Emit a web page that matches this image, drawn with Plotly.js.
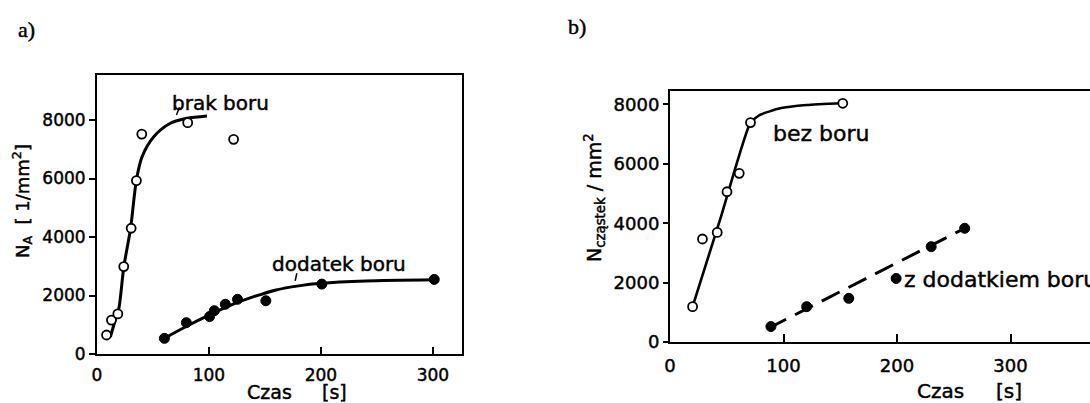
<!DOCTYPE html>
<html><head><meta charset="utf-8">
<script src="https://cdn.plot.ly/plotly-3.0.1.min.js"></script>
<style>
html,body{margin:0;padding:0;background:#fff;}
#chart{width:1090px;height:403px;}
#chart .annotation-text, #chart .xtick text, #chart .ytick text, #chart .x2tick text, #chart .y2tick text{
  stroke:#000; stroke-width:0.45px; paint-order:stroke;}
</style>
</head><body><div id="chart"></div>
<script>
// ---------- Panel a) ----------
const aXTicks = [0, 100, 200, 300];
const aYTicks = [0, 2000, 4000, 6000, 8000];
// brak boru (open circles)
const aBrakX = [8.5, 12.9, 18.6, 23.9, 30.5, 35.2, 40, 81, 122];
const aBrakY = [650, 1160, 1370, 2990, 4300, 5930, 7520, 7910, 7340];
// fitted curve brak boru
const aBrakCurveX = [12, 16.5, 19.5, 24, 30, 35.2, 40.3, 50.7, 65.5, 80.4, 98.2];
const aBrakCurveY = [590, 1190, 1550, 2990, 4300, 5950, 6750, 7430, 7890, 8060, 8140];
// dodatek boru (filled circles)
const aDodX = [60.2, 79.8, 100.6, 104.8, 114.6, 125.5, 150.8, 200.8, 301.2];
const aDodY = [535, 1070, 1280, 1480, 1700, 1870, 1820, 2390, 2550];
const aDodCurveX = [60, 80, 100, 120, 140, 160, 180, 200, 240, 301];
const aDodCurveY = [535, 950, 1330, 1680, 1960, 2190, 2330, 2420, 2500, 2540];
// label leader strokes
const aBrakLeadX = [71, 73.6];
const aBrakLeadY = [8170, 8440];
const aDodLeadX = [177, 178.5];
const aDodLeadY = [2500, 2760];

// ---------- Panel b) ----------
const bXTicks = [0, 100, 200, 300];
const bYTicks = [0, 2000, 4000, 6000, 8000];
const bBezX = [19.9, 28.6, 41.6, 50.2, 61, 70.9, 152.2];
const bBezY = [1190, 3470, 3690, 5060, 5680, 7390, 8040];
const bBezCurveX = [19.9, 45, 70.9, 79.3, 96.9, 120.4, 152.2];
const bBezCurveY = [1190, 4230, 7390, 7650, 7870, 7980, 8040];
const bZX = [88.9, 120.4, 157.5, 199.2, 230.1, 259.6];
const bZY = [520, 1190, 1470, 2140, 3210, 3830];
const bZLineX = [86.6, 259.6];
const bZLineY = [460, 3830];

const W = 1090, H = 403;
const px = x => x / W;
const py = y => 1 - y / H;
const INK = '#000';
const FONT = 'DejaVu Sans';

const curveA = {width: 3, color: INK, shape: 'spline', smoothing: 0.8};
const openM = {symbol: 'circle', size: 9, color: '#fff', line: {color: INK, width: 1.8}};
const fillM = {symbol: 'circle', size: 10, color: INK, line: {color: INK, width: 1}};

const traces = [
  {x: aBrakCurveX, y: aBrakCurveY, mode: 'lines', line: curveA, xaxis: 'x', yaxis: 'y', hoverinfo: 'skip'},
  {x: aDodCurveX, y: aDodCurveY, mode: 'lines', line: curveA, xaxis: 'x', yaxis: 'y', hoverinfo: 'skip'},
  {x: aBrakLeadX, y: aBrakLeadY, mode: 'lines', line: {width: 1.5, color: INK}, xaxis: 'x', yaxis: 'y'},
  {x: aDodLeadX, y: aDodLeadY, mode: 'lines', line: {width: 1.5, color: INK}, xaxis: 'x', yaxis: 'y'},
  {x: aBrakX, y: aBrakY, mode: 'markers', marker: openM, xaxis: 'x', yaxis: 'y'},
  {x: aDodX, y: aDodY, mode: 'markers', marker: fillM, xaxis: 'x', yaxis: 'y'},
  {x: bBezCurveX, y: bBezCurveY, mode: 'lines', line: {width: 2.6, color: INK, shape: 'spline', smoothing: 0.5}, xaxis: 'x2', yaxis: 'y2'},
  {x: bZLineX, y: bZLineY, mode: 'lines', line: {width: 3, color: INK, dash: '20px,10px'}, xaxis: 'x2', yaxis: 'y2'},
  {x: bBezX, y: bBezY, mode: 'markers', marker: openM, xaxis: 'x2', yaxis: 'y2'},
  {x: bZX, y: bZY, mode: 'markers', marker: fillM, xaxis: 'x2', yaxis: 'y2'}
];

const axBase = {showgrid: false, zeroline: false, showline: true, linecolor: INK, linewidth: 2,
  tickcolor: INK, tickwidth: 2, tickmode: 'array', fixedrange: true};

const ann = (o) => Object.assign({showarrow: false, xanchor: 'center', yanchor: 'middle'}, o);
const SP = '&nbsp;&nbsp;&nbsp;&nbsp;&nbsp;';

const layout = {
  width: W, height: H, margin: {l: 0, r: 0, t: 0, b: 0},
  paper_bgcolor: '#fff', plot_bgcolor: '#fff', showlegend: false,
  font: {family: FONT, color: INK, size: 17},
  xaxis: Object.assign({}, axBase, {domain: [px(97), px(462)], range: [0, 326], anchor: 'y',
    mirror: true, ticks: 'inside', ticklen: 7, tickvals: aXTicks, ticktext: aXTicks.map(String),
    tickfont: {size: 17}, ticklabelstandoff: 5}),
  yaxis: Object.assign({}, axBase, {domain: [py(354), py(75)], range: [0, 9540], anchor: 'x',
    mirror: true, ticks: 'outside', ticklen: 6, tickvals: aYTicks, ticktext: aYTicks.map(String),
    tickfont: {size: 17}}),
  xaxis2: Object.assign({}, axBase, {domain: [px(670), 1], range: [0, 370], anchor: 'y2',
    mirror: true, ticks: 'inside', ticklen: 8, tickvals: bXTicks, ticktext: bXTicks.map(String),
    tickfont: {size: 18}, ticklabelstandoff: 6}),
  yaxis2: Object.assign({}, axBase, {domain: [py(342), py(91)], range: [0, 8454], anchor: 'x2',
    mirror: false, ticks: 'outside', ticklen: 5, tickvals: bYTicks, ticktext: bYTicks.map(String),
    tickfont: {size: 18}}),
  annotations: [
    ann({text: 'a)', xref: 'paper', yref: 'paper', x: px(26), y: py(29),
      font: {family: 'Liberation Serif', size: 22, color: '#000'}}),
    ann({text: 'b)', xref: 'paper', yref: 'paper', x: px(577), y: py(27),
      font: {family: 'Liberation Serif', size: 22, color: '#000'}}),
    ann({text: 'brak boru', xref: 'x', yref: 'y', x: 110.7, y: 8590, font: {size: 20}}),
    ann({text: 'dodatek boru', xref: 'x', yref: 'y', x: 216, y: 3080, font: {size: 20}}),
    ann({text: 'Czas' + SP + '[s]', xref: 'paper', yref: 'paper', x: px(297), y: py(392),
      font: {size: 19}}),
    ann({text: 'N<sub>A</sub>&nbsp;&nbsp;[ 1/mm<sup>2</sup>]', xref: 'paper', yref: 'paper', x: px(22), y: py(201),
      textangle: -90, font: {size: 18}}),
    ann({text: 'bez boru', xref: 'x2', yref: 'y2', x: 132.9, y: 7006, font: {size: 22}}),
    ann({text: 'z dodatkiem boru', xref: 'x2', yref: 'y2', x: 204, y: 2090, xanchor: 'left',
      font: {size: 22}}),
    ann({text: 'Czas' + SP + '[s]', xref: 'paper', yref: 'paper', x: px(969), y: py(391),
      font: {size: 20}}),
    ann({text: 'N<sub>cząstek</sub> / mm<sup>2</sup>', xref: 'paper', yref: 'paper', x: px(594), y: py(198),
      textangle: -90, font: {size: 19}})
  ]
};

Plotly.newPlot('chart', traces, layout, {displayModeBar: false, staticPlot: true});
</script>
</body></html>
